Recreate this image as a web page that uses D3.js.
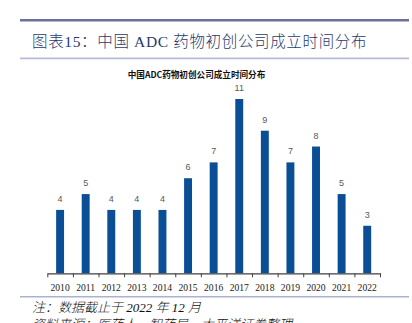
<!DOCTYPE html>
<html><head><meta charset="utf-8">
<script src="https://cdn.jsdelivr.net/npm/d3@7"></script>
<style>html,body{margin:0;padding:0;background:#fff;}svg{display:block;}</style>
</head><body>
<svg id="c" width="412" height="323"></svg>
<script>
const years = ["2010","2011","2012","2013","2014","2015","2016","2017","2018","2019","2020","2021","2022"];
const counts = [4,5,4,4,4,6,7,11,9,7,8,5,3];
const headerTitle = "图表15：中国 ADC 药物初创公司成立时间分布";
const chartTitle = "中国ADC药物初创公司成立时间分布";
const noteText = "注：数据截止于 2022 年 12 月";
const sourceText = "资料来源：医药人，智药局，太平洋证券整理";

const svg = d3.select("#c");
// header lines
svg.append("line").attr("x1",20).attr("x2",409).attr("y1",20.3).attr("y2",20.3)
  .attr("stroke","#6e709c").attr("stroke-width",2.4);
svg.append("text").attr("x",32).attr("y",46.5)
  .attr("font-family","'Liberation Serif','Noto Sans CJK SC',serif")
  .attr("font-weight",300).attr("letter-spacing",0.65)
  .attr("font-size",15.5).attr("fill","#1f3a6e").text(headerTitle);
svg.append("line").attr("x1",20).attr("x2",409).attr("y1",58.3).attr("y2",58.3)
  .attr("stroke","#b7bcd6").attr("stroke-width",1.8);

// chart title
svg.append("text").attr("x",196.5).attr("y",78).attr("text-anchor","middle")
  .attr("font-family","'Noto Sans CJK SC','Liberation Sans',sans-serif")
  .attr("font-weight","bold").attr("font-size",8.6).attr("fill","#111").text(chartTitle);

const x0 = 47.3, x1 = 380;
const x = d3.scaleBand().domain(years).range([x0,x1]).paddingInner(0.69).paddingOuter(0.345);
const y = d3.scaleLinear().domain([0,11]).range([273.3,99]);

svg.append("g").selectAll("rect").data(years).join("rect")
  .attr("x",d=>x(d)).attr("width",x.bandwidth())
  .attr("y",(d,i)=>y(counts[i])).attr("height",(d,i)=>y(0)-y(counts[i]))
  .attr("fill","#0a4f96");

svg.append("g").selectAll("text").data(years).join("text")
  .attr("x",d=>x(d)+x.bandwidth()/2).attr("y",(d,i)=>y(counts[i])-8)
  .attr("text-anchor","middle").attr("font-family","'Liberation Sans',Arial,sans-serif")
  .attr("font-size",9).attr("fill","#595959").text((d,i)=>counts[i]);

// axis with boundary ticks
const xt = d3.scaleLinear().domain([0,years.length]).range([x0,x1]);
const ax = svg.append("g").attr("transform",`translate(0,${y(0)})`)
  .call(d3.axisBottom(xt).tickValues(d3.range(years.length+1)).tickFormat("").tickSize(4).tickSizeOuter(0));
ax.select(".domain").attr("stroke","#404040").attr("stroke-width",1.2);
ax.selectAll(".tick line").attr("stroke","#404040");

const lab = svg.append("g").attr("transform",`translate(0,${y(0)})`)
  .call(d3.axisBottom(x).tickSize(0).tickPadding(11));
lab.select(".domain").remove();
lab.selectAll("text").attr("font-family","'Liberation Serif','Times New Roman',serif")
  .attr("font-size",9.6).attr("fill","#222");

// separator
svg.append("line").attr("x1",20).attr("x2",409).attr("y1",296.8).attr("y2",296.8)
  .attr("stroke","#aab2d2").attr("stroke-width",1.5);

svg.append("text").attr("x",32).attr("y",311.5)
  .attr("font-family","'Liberation Serif','Noto Sans CJK SC',serif").attr("font-style","italic")
  .attr("font-weight",300).attr("font-size",13).attr("fill","#111").text(noteText);
svg.append("text").attr("x",32).attr("y",329)
  .attr("font-family","'Liberation Serif','Noto Sans CJK SC',serif").attr("font-style","italic")
  .attr("font-weight",300).attr("font-size",13).attr("fill","#111").text(sourceText);
</script>
</body></html>
